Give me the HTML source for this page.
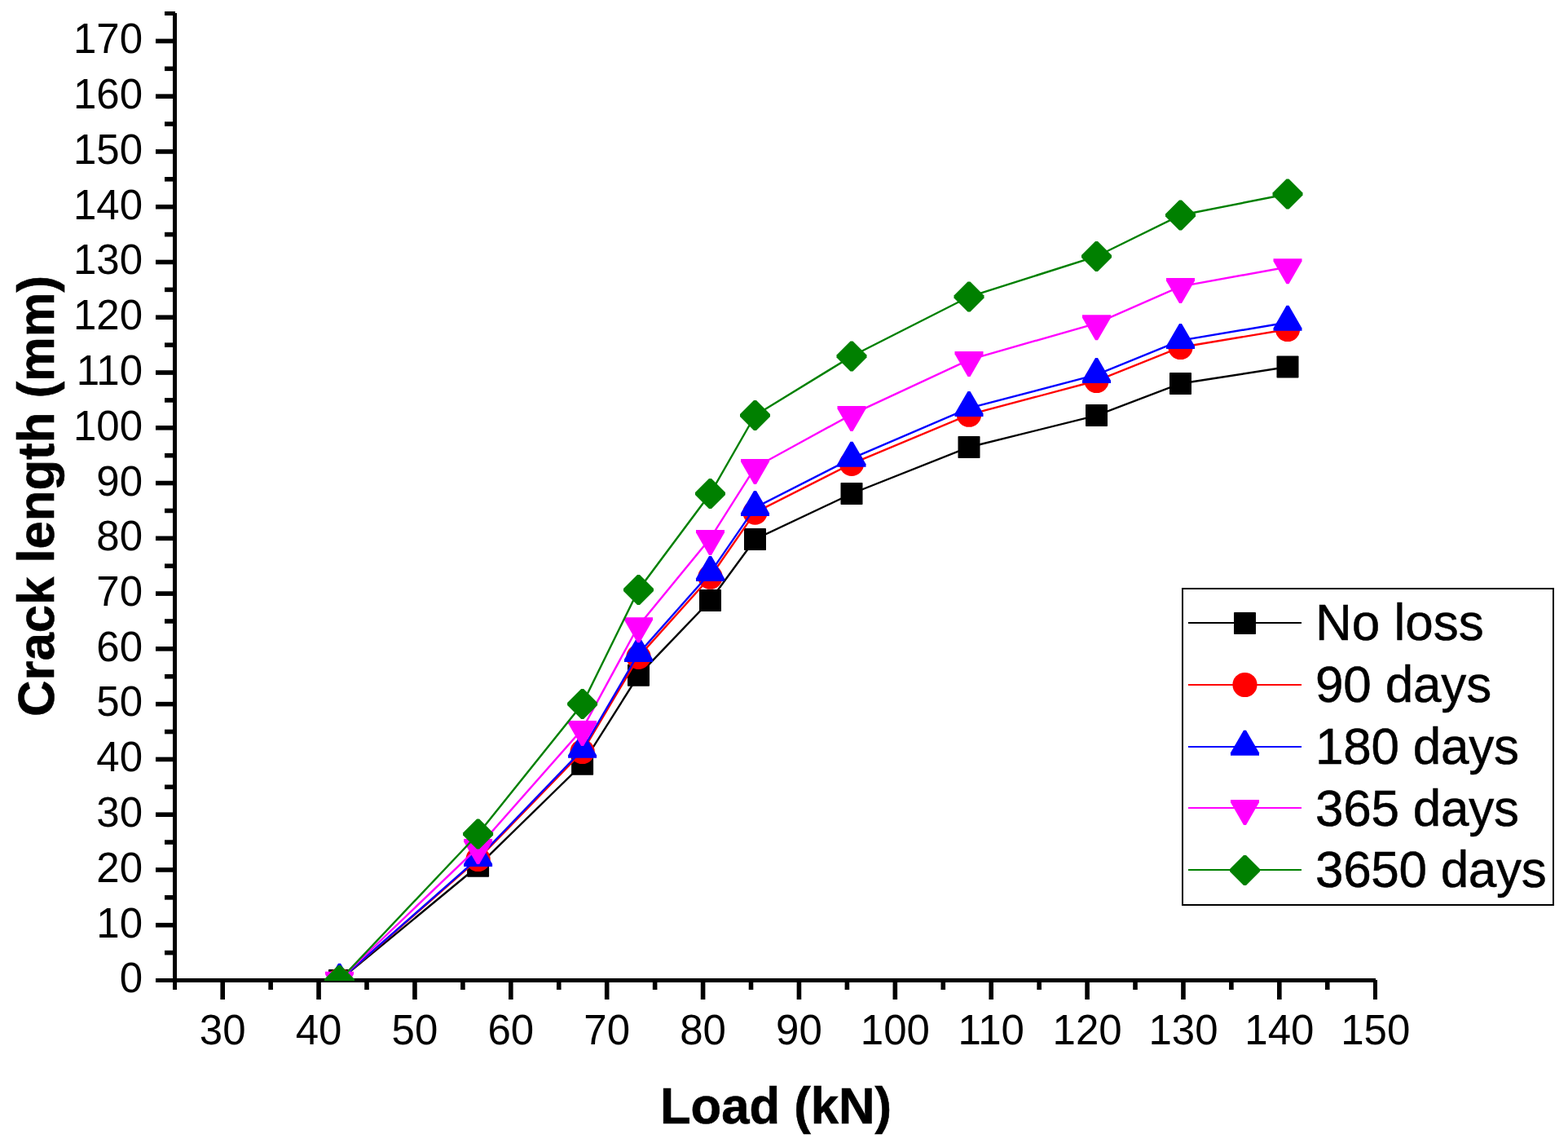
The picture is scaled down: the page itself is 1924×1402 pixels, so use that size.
<!DOCTYPE html>
<html lang="en"><head><meta charset="utf-8"><title>Crack length vs Load</title>
<style>
html,body{margin:0;padding:0;background:#fff;}
body{width:1924px;height:1402px;overflow:hidden;}
svg{display:block;}
text{font-family:"Liberation Sans",sans-serif;fill:#000;}
.tk{font-size:51px;}
.ttl{font-size:61.65px;font-weight:bold;stroke:#000;stroke-width:0.6px;}
.lg{font-size:62px;stroke:#000;stroke-width:0.5px;}
</style></head><body>
<svg width="1924" height="1402" viewBox="0 0 1924 1402">
<defs><clipPath id="plot"><rect x="214" y="0" width="1476" height="1203"/></clipPath></defs>
<rect x="0" y="0" width="1924" height="1402" fill="#ffffff"/>
<g fill="#000">
<rect x="212" y="16" width="5" height="1198"/>
<rect x="191" y="1200" width="1497" height="5"/>
<rect x="202" y="14" width="13" height="5"/>
<rect x="1685" y="1202" width="5" height="24"/>
<rect x="202" y="1165.81" width="11" height="5.6"/>
<rect x="191" y="1131.93" width="22" height="5.6"/>
<rect x="202" y="1098.04" width="11" height="5.6"/>
<rect x="191" y="1064.16" width="22" height="5.6"/>
<rect x="202" y="1030.27" width="11" height="5.6"/>
<rect x="191" y="996.39" width="22" height="5.6"/>
<rect x="202" y="962.5" width="11" height="5.6"/>
<rect x="191" y="928.62" width="22" height="5.6"/>
<rect x="202" y="894.73" width="11" height="5.6"/>
<rect x="191" y="860.85" width="22" height="5.6"/>
<rect x="202" y="826.96" width="11" height="5.6"/>
<rect x="191" y="793.07" width="22" height="5.6"/>
<rect x="202" y="759.19" width="11" height="5.6"/>
<rect x="191" y="725.3" width="22" height="5.6"/>
<rect x="202" y="691.42" width="11" height="5.6"/>
<rect x="191" y="657.53" width="22" height="5.6"/>
<rect x="202" y="623.65" width="11" height="5.6"/>
<rect x="191" y="589.76" width="22" height="5.6"/>
<rect x="202" y="555.88" width="11" height="5.6"/>
<rect x="191" y="521.99" width="22" height="5.6"/>
<rect x="202" y="488.1" width="11" height="5.6"/>
<rect x="191" y="454.22" width="22" height="5.6"/>
<rect x="202" y="420.33" width="11" height="5.6"/>
<rect x="191" y="386.45" width="22" height="5.6"/>
<rect x="202" y="352.56" width="11" height="5.6"/>
<rect x="191" y="318.68" width="22" height="5.6"/>
<rect x="202" y="284.79" width="11" height="5.6"/>
<rect x="191" y="250.91" width="22" height="5.6"/>
<rect x="202" y="217.02" width="11" height="5.6"/>
<rect x="191" y="183.14" width="22" height="5.6"/>
<rect x="202" y="149.25" width="11" height="5.6"/>
<rect x="191" y="115.36" width="22" height="5.6"/>
<rect x="202" y="81.48" width="11" height="5.6"/>
<rect x="191" y="47.59" width="22" height="5.6"/>
<rect x="270.4" y="1204" width="5.6" height="22"/>
<rect x="329.34" y="1204" width="5.6" height="10"/>
<rect x="388.27" y="1204" width="5.6" height="22"/>
<rect x="447.21" y="1204" width="5.6" height="10"/>
<rect x="506.15" y="1204" width="5.6" height="22"/>
<rect x="565.09" y="1204" width="5.6" height="10"/>
<rect x="624.03" y="1204" width="5.6" height="22"/>
<rect x="682.96" y="1204" width="5.6" height="10"/>
<rect x="741.9" y="1204" width="5.6" height="22"/>
<rect x="800.84" y="1204" width="5.6" height="10"/>
<rect x="859.78" y="1204" width="5.6" height="22"/>
<rect x="918.71" y="1204" width="5.6" height="10"/>
<rect x="977.65" y="1204" width="5.6" height="22"/>
<rect x="1036.59" y="1204" width="5.6" height="10"/>
<rect x="1095.53" y="1204" width="5.6" height="22"/>
<rect x="1154.46" y="1204" width="5.6" height="10"/>
<rect x="1213.4" y="1204" width="5.6" height="22"/>
<rect x="1272.34" y="1204" width="5.6" height="10"/>
<rect x="1331.28" y="1204" width="5.6" height="22"/>
<rect x="1390.21" y="1204" width="5.6" height="10"/>
<rect x="1449.15" y="1204" width="5.6" height="22"/>
<rect x="1508.09" y="1204" width="5.6" height="10"/>
<rect x="1567.03" y="1204" width="5.6" height="22"/>
<rect x="1625.96" y="1204" width="5.6" height="10"/>
</g>
<g class="tk" text-anchor="end">
<text transform="translate(175 1216.7) scale(1 1.026)">0</text>
<text transform="translate(175 1149.7) scale(1 1.026)">10</text>
<text transform="translate(175 1081.7) scale(1 1.026)">20</text>
<text transform="translate(175 1013.7) scale(1 1.026)">30</text>
<text transform="translate(175 945.7) scale(1 1.026)">40</text>
<text transform="translate(175 877.7) scale(1 1.026)">50</text>
<text transform="translate(175 810.7) scale(1 1.026)">60</text>
<text transform="translate(175 742.7) scale(1 1.026)">70</text>
<text transform="translate(175 674.7) scale(1 1.026)">80</text>
<text transform="translate(175 607.7) scale(1 1.026)">90</text>
<text transform="translate(175 539.7) scale(1 1.026)">100</text>
<text transform="translate(175 471.7) scale(1 1.026)">110</text>
<text transform="translate(175 403.7) scale(1 1.026)">120</text>
<text transform="translate(175 335.7) scale(1 1.026)">130</text>
<text transform="translate(175 268.7) scale(1 1.026)">140</text>
<text transform="translate(175 200.7) scale(1 1.026)">150</text>
<text transform="translate(175 132.7) scale(1 1.026)">160</text>
<text transform="translate(175 64.7) scale(1 1.026)">170</text>
</g>
<g class="tk" text-anchor="middle">
<text transform="translate(273.2 1280.7) scale(1 1.026)">30</text>
<text transform="translate(391.07 1280.7) scale(1 1.026)">40</text>
<text transform="translate(508.95 1280.7) scale(1 1.026)">50</text>
<text transform="translate(626.83 1280.7) scale(1 1.026)">60</text>
<text transform="translate(744.7 1280.7) scale(1 1.026)">70</text>
<text transform="translate(862.58 1280.7) scale(1 1.026)">80</text>
<text transform="translate(980.45 1280.7) scale(1 1.026)">90</text>
<text transform="translate(1098.33 1280.7) scale(1 1.026)">100</text>
<text transform="translate(1216.2 1280.7) scale(1 1.026)">110</text>
<text transform="translate(1334.08 1280.7) scale(1 1.026)">120</text>
<text transform="translate(1451.95 1280.7) scale(1 1.026)">130</text>
<text transform="translate(1569.83 1280.7) scale(1 1.026)">140</text>
<text transform="translate(1687.7 1280.7) scale(1 1.026)">150</text>
</g>
<text class="ttl" text-anchor="middle" transform="translate(952 1377.7) scale(1 1.03)">Load (kN)</text>
<text class="ttl" text-anchor="middle" transform="translate(66.4 608.5) rotate(-90) scale(1 1.03)">Crack length (mm)</text>
<g clip-path="url(#plot)">
<g>
<polyline points="416.5,1202.5 586.6,1062.3 714.6,937.3 783.5,828.3 871.5,736.5 926.5,661.5 1045,605.5 1189,548.5 1345.5,509.6 1448.5,470.5 1580,450" fill="none" stroke="#000000" stroke-width="2.4"/>
<rect x="403" y="1189" width="27" height="27" rx="0.8" fill="#000000"/>
<rect x="573.1" y="1048.8" width="27" height="27" rx="0.8" fill="#000000"/>
<rect x="701.1" y="923.8" width="27" height="27" rx="0.8" fill="#000000"/>
<rect x="770" y="814.8" width="27" height="27" rx="0.8" fill="#000000"/>
<rect x="858" y="723" width="27" height="27" rx="0.8" fill="#000000"/>
<rect x="913" y="648" width="27" height="27" rx="0.8" fill="#000000"/>
<rect x="1031.5" y="592" width="27" height="27" rx="0.8" fill="#000000"/>
<rect x="1175.5" y="535" width="27" height="27" rx="0.8" fill="#000000"/>
<rect x="1332" y="496.1" width="27" height="27" rx="0.8" fill="#000000"/>
<rect x="1435" y="457" width="27" height="27" rx="0.8" fill="#000000"/>
<rect x="1566.5" y="436.5" width="27" height="27" rx="0.8" fill="#000000"/>
</g>
<g>
<polyline points="416.5,1202.5 586.6,1054 714.6,922 783.5,805.8 871.5,707.7 926.5,628.6 1045,568.8 1189,508.7 1345.5,467 1448.5,426 1580,404" fill="none" stroke="#ff0000" stroke-width="2.4"/>
<circle cx="416.5" cy="1202.5" r="15.1" fill="#ff0000"/>
<circle cx="586.6" cy="1054" r="15.1" fill="#ff0000"/>
<circle cx="714.6" cy="922" r="15.1" fill="#ff0000"/>
<circle cx="783.5" cy="805.8" r="15.1" fill="#ff0000"/>
<circle cx="871.5" cy="707.7" r="15.1" fill="#ff0000"/>
<circle cx="926.5" cy="628.6" r="15.1" fill="#ff0000"/>
<circle cx="1045" cy="568.8" r="15.1" fill="#ff0000"/>
<circle cx="1189" cy="508.7" r="15.1" fill="#ff0000"/>
<circle cx="1345.5" cy="467" r="15.1" fill="#ff0000"/>
<circle cx="1448.5" cy="426" r="15.1" fill="#ff0000"/>
<circle cx="1580" cy="404" r="15.1" fill="#ff0000"/>
</g>
<g>
<polyline points="416.5,1202.5 586.6,1052.7 714.6,919.5 783.5,801.7 871.5,702.6 926.5,622.6 1045,562.4 1189,500.6 1345.5,459.7 1448.5,417.6 1580,395.5" fill="none" stroke="#0000ff" stroke-width="2.4"/>
<polygon points="415,1181.83 418,1181.83 434,1209.43 434,1212.83 399,1212.83 399,1209.43" fill="#0000ff"/>
<polygon points="585.1,1032.03 588.1,1032.03 604.1,1059.63 604.1,1063.03 569.1,1063.03 569.1,1059.63" fill="#0000ff"/>
<polygon points="713.1,898.83 716.1,898.83 732.1,926.43 732.1,929.83 697.1,929.83 697.1,926.43" fill="#0000ff"/>
<polygon points="782,781.03 785,781.03 801,808.63 801,812.03 766,812.03 766,808.63" fill="#0000ff"/>
<polygon points="870,681.93 873,681.93 889,709.53 889,712.93 854,712.93 854,709.53" fill="#0000ff"/>
<polygon points="925,601.93 928,601.93 944,629.53 944,632.93 909,632.93 909,629.53" fill="#0000ff"/>
<polygon points="1043.5,541.73 1046.5,541.73 1062.5,569.33 1062.5,572.73 1027.5,572.73 1027.5,569.33" fill="#0000ff"/>
<polygon points="1187.5,479.93 1190.5,479.93 1206.5,507.53 1206.5,510.93 1171.5,510.93 1171.5,507.53" fill="#0000ff"/>
<polygon points="1344,439.03 1347,439.03 1363,466.63 1363,470.03 1328,470.03 1328,466.63" fill="#0000ff"/>
<polygon points="1447,396.93 1450,396.93 1466,424.53 1466,427.93 1431,427.93 1431,424.53" fill="#0000ff"/>
<polygon points="1578.5,374.83 1581.5,374.83 1597.5,402.43 1597.5,405.83 1562.5,405.83 1562.5,402.43" fill="#0000ff"/>
</g>
<g>
<polyline points="416.5,1202 586.6,1039.4 714.6,894.3 783.5,767.5 871.5,660.3 926.5,573.3 1045,508.4 1189,441.3 1345.5,396.6 1448.5,351.4 1580,327.5" fill="none" stroke="#ff00ff" stroke-width="2.4"/>
<polygon points="399,1191.67 434,1191.67 434,1195.07 418,1222.67 415,1222.67 399,1195.07" fill="#ff00ff"/>
<polygon points="569.1,1029.07 604.1,1029.07 604.1,1032.47 588.1,1060.07 585.1,1060.07 569.1,1032.47" fill="#ff00ff"/>
<polygon points="697.1,883.97 732.1,883.97 732.1,887.37 716.1,914.97 713.1,914.97 697.1,887.37" fill="#ff00ff"/>
<polygon points="766,757.17 801,757.17 801,760.57 785,788.17 782,788.17 766,760.57" fill="#ff00ff"/>
<polygon points="854,649.97 889,649.97 889,653.37 873,680.97 870,680.97 854,653.37" fill="#ff00ff"/>
<polygon points="909,562.97 944,562.97 944,566.37 928,593.97 925,593.97 909,566.37" fill="#ff00ff"/>
<polygon points="1027.5,498.07 1062.5,498.07 1062.5,501.47 1046.5,529.07 1043.5,529.07 1027.5,501.47" fill="#ff00ff"/>
<polygon points="1171.5,430.97 1206.5,430.97 1206.5,434.37 1190.5,461.97 1187.5,461.97 1171.5,434.37" fill="#ff00ff"/>
<polygon points="1328,386.27 1363,386.27 1363,389.67 1347,417.27 1344,417.27 1328,389.67" fill="#ff00ff"/>
<polygon points="1431,341.07 1466,341.07 1466,344.47 1450,372.07 1447,372.07 1431,344.47" fill="#ff00ff"/>
<polygon points="1562.5,317.17 1597.5,317.17 1597.5,320.57 1581.5,348.17 1578.5,348.17 1562.5,320.57" fill="#ff00ff"/>
</g>
<g>
<polyline points="416.5,1202.5 586.6,1023 714.6,863.5 783.5,723.5 871.5,605.5 926.5,509.5 1045,437 1189,364 1345.5,314.5 1448.5,264 1580,238" fill="none" stroke="#008000" stroke-width="2.4"/>
<polygon points="415,1184 418,1184 435,1201 435,1204 418,1221 415,1221 398,1204 398,1201" fill="#008000"/>
<polygon points="585.1,1004.5 588.1,1004.5 605.1,1021.5 605.1,1024.5 588.1,1041.5 585.1,1041.5 568.1,1024.5 568.1,1021.5" fill="#008000"/>
<polygon points="713.1,845 716.1,845 733.1,862 733.1,865 716.1,882 713.1,882 696.1,865 696.1,862" fill="#008000"/>
<polygon points="782,705 785,705 802,722 802,725 785,742 782,742 765,725 765,722" fill="#008000"/>
<polygon points="870,587 873,587 890,604 890,607 873,624 870,624 853,607 853,604" fill="#008000"/>
<polygon points="925,491 928,491 945,508 945,511 928,528 925,528 908,511 908,508" fill="#008000"/>
<polygon points="1043.5,418.5 1046.5,418.5 1063.5,435.5 1063.5,438.5 1046.5,455.5 1043.5,455.5 1026.5,438.5 1026.5,435.5" fill="#008000"/>
<polygon points="1187.5,345.5 1190.5,345.5 1207.5,362.5 1207.5,365.5 1190.5,382.5 1187.5,382.5 1170.5,365.5 1170.5,362.5" fill="#008000"/>
<polygon points="1344,296 1347,296 1364,313 1364,316 1347,333 1344,333 1327,316 1327,313" fill="#008000"/>
<polygon points="1447,245.5 1450,245.5 1467,262.5 1467,265.5 1450,282.5 1447,282.5 1430,265.5 1430,262.5" fill="#008000"/>
<polygon points="1578.5,219.5 1581.5,219.5 1598.5,236.5 1598.5,239.5 1581.5,256.5 1578.5,256.5 1561.5,239.5 1561.5,236.5" fill="#008000"/>
</g>
</g>
<g>
<rect x="1451" y="722" width="455" height="388" fill="#fff" stroke="#000" stroke-width="2" shape-rendering="crispEdges"/>
<rect x="1458" y="763" width="139" height="2" fill="#000000" shape-rendering="crispEdges"/>
<rect x="1514" y="751" width="27" height="27" rx="0.8" fill="#000000"/>
<text class="lg" transform="translate(1614 785.2) scale(1 1.03)">No loss</text>
<rect x="1458" y="839" width="139" height="2" fill="#ff0000" shape-rendering="crispEdges"/>
<circle cx="1527.5" cy="840" r="15.1" fill="#ff0000"/>
<text class="lg" transform="translate(1614 861) scale(1 1.03)" textLength="216.2" lengthAdjust="spacing">90 days</text>
<rect x="1458" y="915" width="139" height="2" fill="#0000ff" shape-rendering="crispEdges"/>
<polygon points="1526,895.63 1529,895.63 1545,923.23 1545,926.63 1510,926.63 1510,923.23" fill="#0000ff"/>
<text class="lg" transform="translate(1614 936.8) scale(1 1.03)" textLength="250.1" lengthAdjust="spacing">180 days</text>
<rect x="1458" y="990" width="139" height="2" fill="#ff00ff" shape-rendering="crispEdges"/>
<polygon points="1510,980.97 1545,980.97 1545,984.37 1529,1011.97 1526,1011.97 1510,984.37" fill="#ff00ff"/>
<text class="lg" transform="translate(1614 1012.6) scale(1 1.03)" textLength="250.1" lengthAdjust="spacing">365 days</text>
<rect x="1458" y="1066" width="139" height="2" fill="#008000" shape-rendering="crispEdges"/>
<polygon points="1526,1049 1529,1049 1546,1066 1546,1069 1529,1086 1526,1086 1509,1069 1509,1066" fill="#008000"/>
<text class="lg" transform="translate(1614 1088.4) scale(1 1.03)" textLength="283.7" lengthAdjust="spacing">3650 days</text>
</g>
</svg>
</body></html>
